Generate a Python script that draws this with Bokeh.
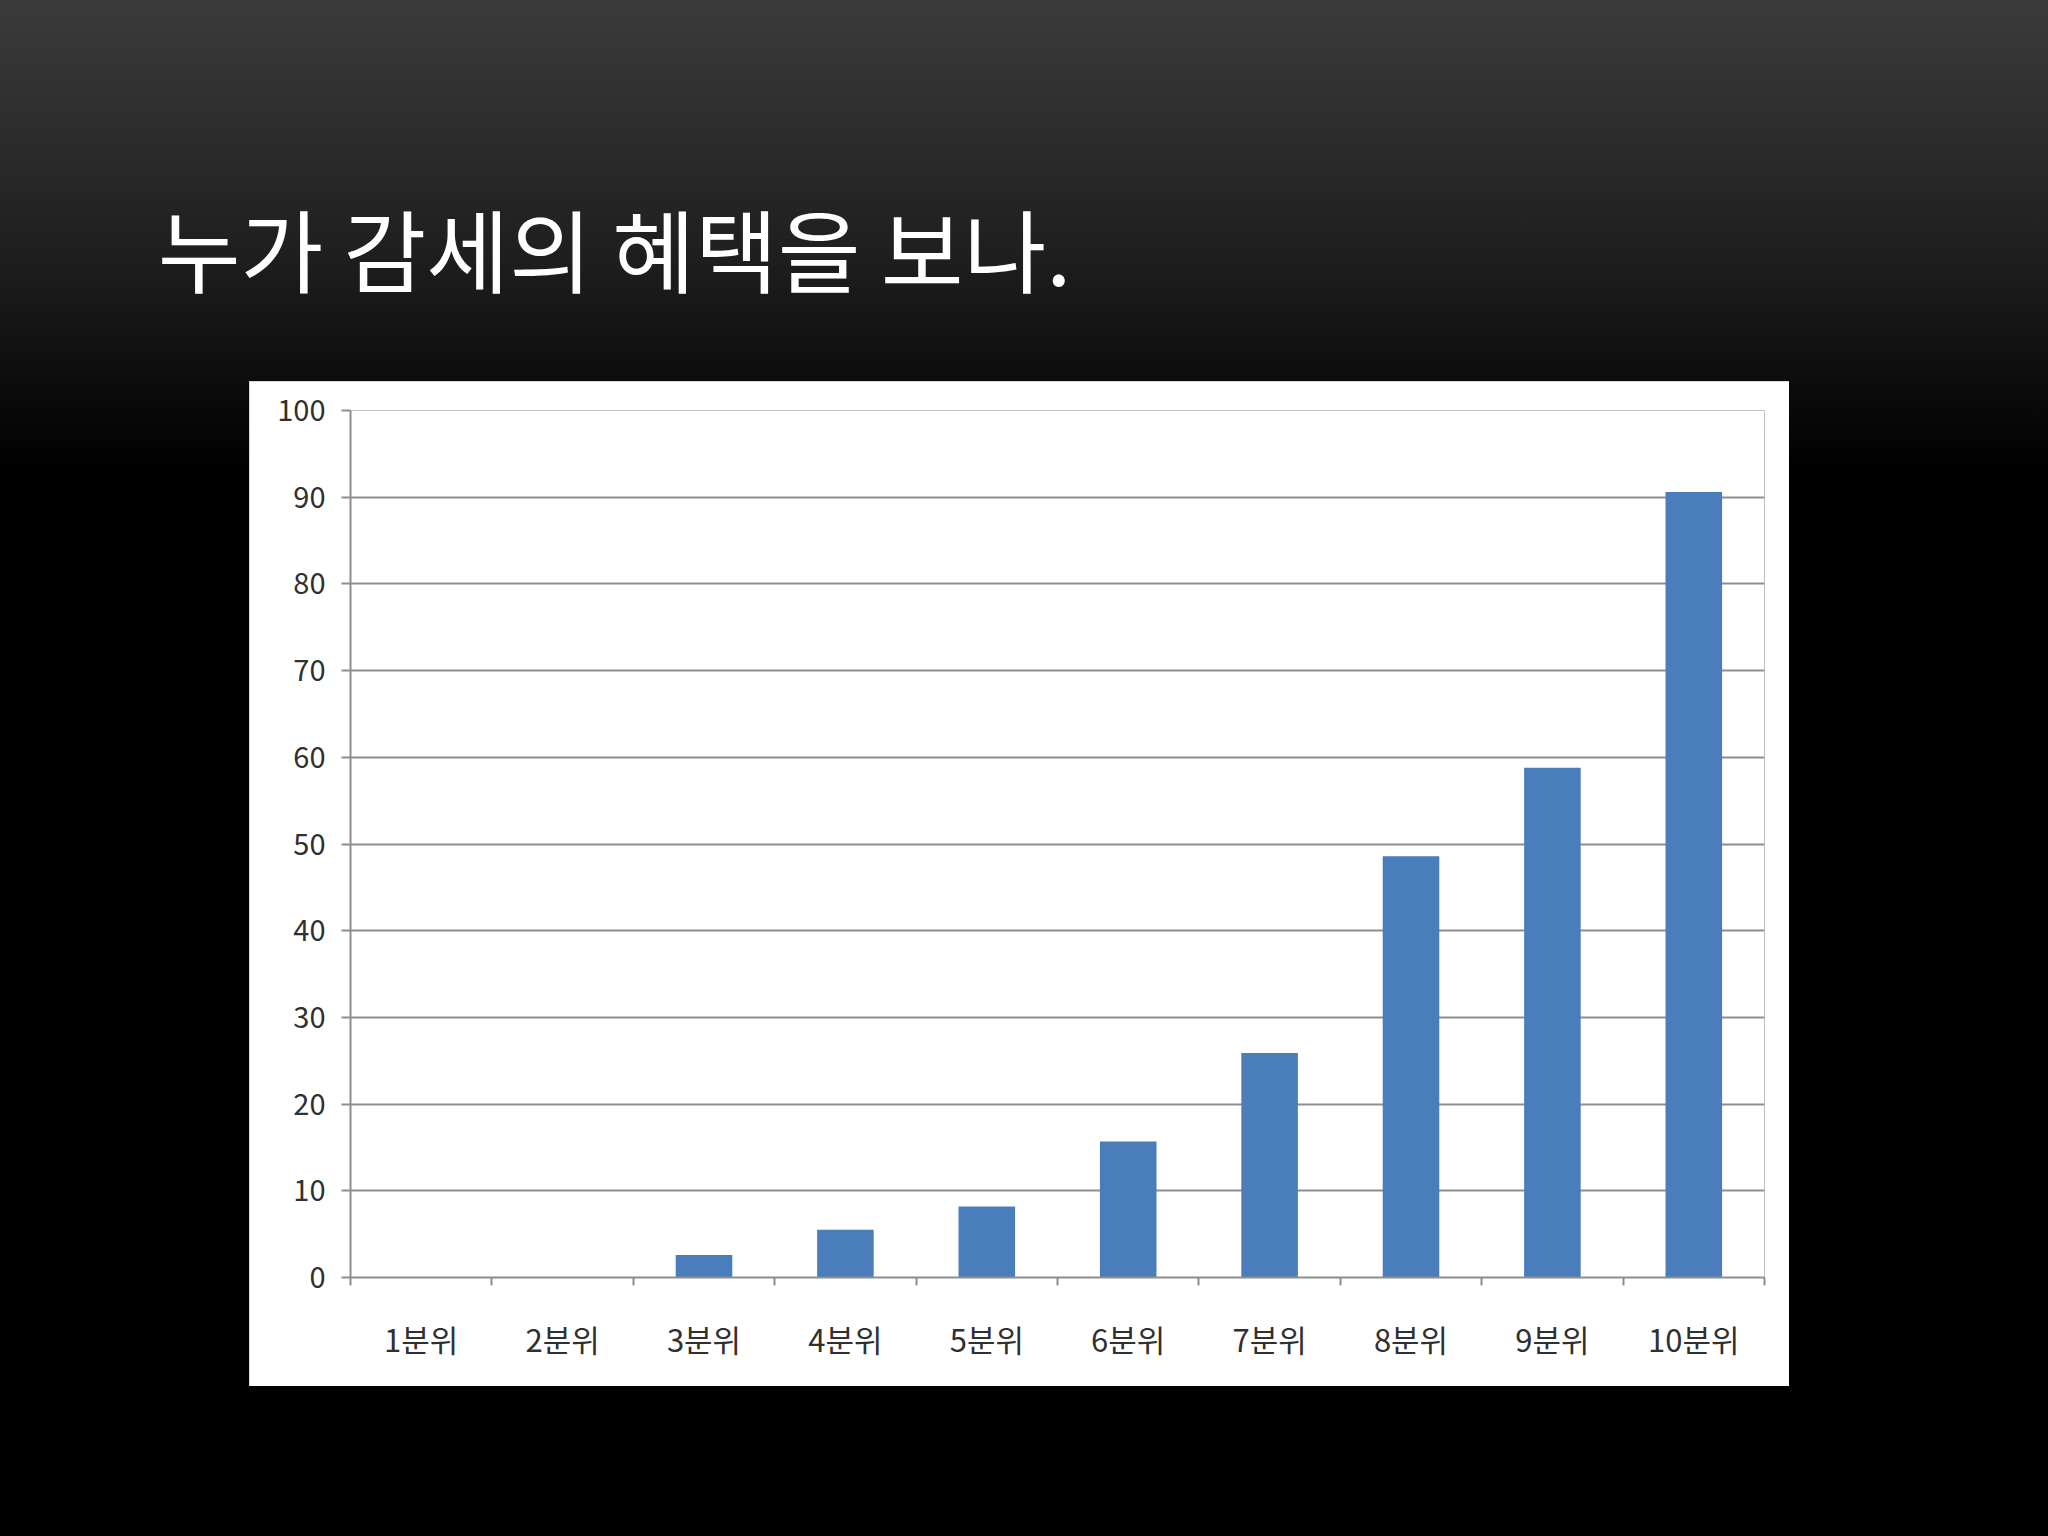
from bokeh.plotting import figure
from bokeh.models import Range1d, FixedTicker, Label
from bokeh.layouts import column
from bokeh.embed import file_html
from bokeh.resources import INLINE

# ---- data ----
title_text = "누가 감세의 혜택을 보나."
categories = ["1분위", "2분위", "3분위", "4분위", "5분위",
              "6분위", "7분위", "8분위", "9분위", "10분위"]
values = [0, 0, 2.6, 5.5, 8.2, 15.7, 25.9, 48.6, 58.8, 90.6]
y_ticks = [0, 10, 20, 30, 40, 50, 60, 70, 80, 90, 100]

# ---- derived positions ----
xs = list(range(1, len(categories) + 1))
boundaries = [i + 0.5 for i in range(0, len(categories) + 1)]

KFONT = "Noto Sans CJK KR"
GRAY = "#8e8e8e"
LABEL = "#303030"
BAR = "#4a7dbb"

# ---- title band ----
t = figure(width=2048, height=340, x_range=Range1d(0, 2048), y_range=Range1d(0, 340),
           output_backend="svg", toolbar_location=None, min_border=0,
           x_axis_location=None, y_axis_location=None,
           background_fill_alpha=0, border_fill_alpha=0, outline_line_color=None)
t.grid.visible = False
t.add_layout(Label(x=60, y=94, text=title_text,
                   text_font=KFONT, text_font_size="90px", text_color="white",
                   text_baseline="alphabetic"))

# ---- chart panel ----
p = figure(width=1540, height=1005, x_range=Range1d(0.5, len(categories) + 0.5),
           y_range=Range1d(0, 100), output_backend="svg", toolbar_location=None,
           min_border_left=101, min_border_right=25, min_border_top=29, min_border_bottom=109,
           background_fill_color="white", border_fill_color="white",
           outline_line_color=None, margin=(41, 0, 0, 249),
           styles={"box-shadow": "inset 0 0 0 2px #c8c8c8"})

p.vbar(x=xs, top=values, width=0.4, fill_color=BAR, line_color=None)

p.xaxis.ticker = FixedTicker(ticks=xs, minor_ticks=boundaries)
p.xaxis.major_label_overrides = {x: c for x, c in zip(xs, categories)}
p.xaxis.major_tick_line_color = None
p.xaxis.major_tick_out = 0
p.xaxis.major_tick_in = 0
p.xaxis.minor_tick_out = 8
p.xaxis.minor_tick_in = 0
p.xaxis.minor_tick_line_color = GRAY
p.xaxis.minor_tick_line_width = 2
p.xaxis.axis_line_color = GRAY
p.xaxis.axis_line_width = 2
p.xaxis.major_label_text_font = KFONT
p.xaxis.major_label_text_font_size = "31px"
p.xaxis.major_label_text_color = LABEL
p.xaxis.major_label_standoff = 30

p.yaxis.ticker = FixedTicker(ticks=y_ticks)
p.yaxis.minor_tick_line_color = None
p.yaxis.major_tick_out = 9
p.yaxis.major_tick_in = 0
p.yaxis.major_tick_line_color = GRAY
p.yaxis.major_tick_line_width = 2
p.yaxis.axis_line_color = GRAY
p.yaxis.axis_line_width = 2
p.yaxis.major_label_text_font = KFONT
p.yaxis.major_label_text_font_size = "29px"
p.yaxis.major_label_text_color = LABEL
p.yaxis.major_label_standoff = 16

p.xgrid.visible = False
p.ygrid.ticker = FixedTicker(ticks=y_ticks)
p.ygrid.grid_line_color = GRAY
p.ygrid.grid_line_width = 2

page = column(t, p, width=2048, height=1536, spacing=0,
              styles={"position": "absolute", "left": "0px", "top": "0px",
                      "background": "linear-gradient(to bottom, #3b3b3b 0px, #1e1e1e 260px, #0a0a0a 400px, #000000 470px, #000000 100%)"})

open("out.html", "w").write(file_html(page, INLINE))
